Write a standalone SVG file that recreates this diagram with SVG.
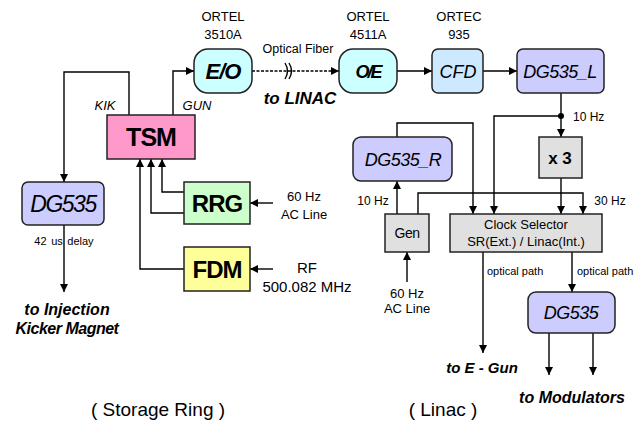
<svg xmlns="http://www.w3.org/2000/svg" width="639" height="422" viewBox="0 0 639 422">
<defs>
<marker id="ah" viewBox="0 0 10 10" refX="10" refY="5" markerWidth="8" markerHeight="8" markerUnits="userSpaceOnUse" orient="auto">
<path d="M0,0 L10,5 L0,10 z" fill="#000"/>
</marker>
<style>
text{font-family:"Liberation Sans",Arial,sans-serif;fill:#000}
.box{stroke:#222;stroke-width:1.5}
.c{fill:none;stroke:#000;stroke-width:1.4;marker-end:url(#ah)}
.n{fill:none;stroke:#000;stroke-width:1.4}
.m{text-anchor:middle}
.s12{font-size:12px}
.s13{font-size:13px}
.s11{font-size:11px}
.bi{font-weight:bold;font-style:italic}
.it{font-style:italic}
.bd{font-weight:bold}
</style>
</defs>
<rect width="639" height="422" fill="#fff"/>

<g id="connectors">
<path class="c" d="M129,115 V72 H64 V182"/>
<path class="c" d="M173,115 V71 H194"/>
<path class="c" d="M252,71 H339" stroke-dasharray="3,1.5"/>
<path class="n" d="M285,63 Q290,71 285,79 M289,63 Q294,71 289,79" stroke-width="1.2"/>
<path class="c" d="M397,71 H432"/>
<path class="c" d="M483,71 H517"/>
<path class="c" d="M561,93 V137"/>
<circle cx="561" cy="116" r="3" fill="#000"/>
<path class="c" d="M561,116 H494 V214"/>
<path class="c" d="M397,137 V123 H473 V214"/>
<path class="c" d="M561,178 V214"/>
<path class="c" d="M418,214 V193 H583 V214"/>
<path class="c" d="M397,214 V181"/>
<path class="c" d="M407,282 V252"/>
<path class="c" d="M483,252 V353"/>
<path class="c" d="M572,252 V292"/>
<path class="c" d="M549,333 V375"/>
<path class="c" d="M593,333 V375"/>
<path class="c" d="M184,192 H162 V159"/>
<path class="c" d="M184,213 H151 V159"/>
<path class="c" d="M184,269 H140 V159"/>
<path class="c" d="M273,203 H250"/>
<path class="c" d="M273,269 H250"/>
<path class="c" d="M64,225 V292"/>
</g>

<g id="eo">
<rect class="box" x="194" y="49" width="58" height="44" rx="14" fill="#ccffff"/>
<text class="m bi" x="223" y="79" font-size="22" letter-spacing="-1">E/O</text>
<text class="m s13" x="223" y="21">ORTEL</text>
<text class="m s13" x="223" y="39">3510A</text>
</g>
<g id="oe">
<rect class="box" x="339" y="49" width="58" height="44" rx="14" fill="#ccffff"/>
<text class="m bi" x="368" y="78" font-size="18" letter-spacing="-2">O/E</text>
<text class="m s13" x="368" y="21">ORTEL</text>
<text class="m s13" x="368" y="39">4511A</text>
</g>
<g id="cfd">
<rect class="box" x="432" y="49" width="51" height="44" rx="6" fill="#cce9ff"/>
<text class="m it" x="458" y="78" font-size="18">CFD</text>
<text class="m s13" x="459" y="21">ORTEC</text>
<text class="m s13" x="459" y="39">935</text>
</g>
<g id="dg535l">
<rect class="box" x="517" y="49" width="87" height="44" rx="6" fill="#ccccff"/>
<text class="m it" x="560" y="78" font-size="18" letter-spacing="-0.5">DG535_L</text>
</g>
<g id="tsm">
<rect class="box" x="107" y="115" width="88" height="44" fill="#ff99cc"/>
<text class="m bd" x="151" y="146" font-size="25" letter-spacing="-1">TSM</text>
</g>
<g id="dg535sr">
<rect class="box" x="22" y="182" width="82" height="43" rx="6" fill="#ccccff"/>
<text class="m it" x="63" y="212" font-size="23" letter-spacing="-1.5">DG535</text>
</g>
<g id="rrg">
<rect class="box" x="184" y="182" width="66" height="42" fill="#ccffcc"/>
<text class="m bd" x="217" y="212" font-size="24" letter-spacing="-1">RRG</text>
</g>
<g id="fdm">
<rect class="box" x="184" y="247" width="66" height="44" fill="#ffff99"/>
<text class="m bd" x="217" y="278" font-size="24" letter-spacing="-1">FDM</text>
</g>
<g id="dg535r">
<rect class="box" x="353" y="137" width="99" height="44" rx="8" fill="#ccccff"/>
<text class="m it" x="403" y="166" font-size="18" letter-spacing="-0.5">DG535_R</text>
</g>
<g id="x3">
<rect class="box" x="539" y="137" width="43" height="41" fill="#e0e0e0"/>
<text class="m bd" x="560" y="164" font-size="17">x 3</text>
</g>
<g id="gen">
<rect class="box" x="385" y="214" width="44" height="38" fill="#e0e0e0"/>
<text class="m" x="407" y="238" font-size="14" letter-spacing="-0.5">Gen</text>
</g>
<g id="clocksel">
<rect class="box" x="450" y="214" width="152" height="38" fill="#e0e0e0"/>
<text class="m s13" x="526" y="229">Clock Selector</text>
<text class="m s13" x="526" y="246">SR(Ext.) / Linac(Int.)</text>
</g>
<g id="dg535linac">
<rect class="box" x="528" y="292" width="87" height="41" rx="8" fill="#ccccff"/>
<text class="m it" x="571" y="319" font-size="18" letter-spacing="-0.5">DG535</text>
</g>

<g id="labels">
<text class="m" x="298" y="53" font-size="12.5">Optical Fiber</text>
<text class="m bi" x="300" y="104" font-size="17">to LINAC</text>
<text class="m it s13" x="105" y="110">KIK</text>
<text class="m it s13" x="197" y="110">GUN</text>
<text class="s12" x="573" y="121">10 Hz</text>
<text class="m s12" x="373" y="205">10 Hz</text>
<text class="m s12" x="610" y="205">30 Hz</text>
<text class="m s13" x="304" y="201">60 Hz</text>
<text class="m s13" x="304" y="219">AC Line</text>
<text class="m" x="307" y="273" font-size="15">RF</text>
<text class="m" x="307" y="292" font-size="15">500.082 MHz</text>
<text class="m s11" x="64" y="245" word-spacing="1.5">42 us delay</text>
<text class="m bi" x="67" y="315" font-size="16">to Injection</text>
<text class="m bi" x="67" y="334" font-size="16" letter-spacing="-0.5">Kicker Magnet</text>
<text class="m" x="158" y="416" font-size="19">( Storage Ring )</text>
<text class="s11" x="487" y="275">optical path</text>
<text class="s11" x="577" y="275">optical path</text>
<text class="m s13" x="407" y="298">60 Hz</text>
<text class="m s13" x="407" y="313">AC Line</text>
<text class="m bi" x="482" y="373" font-size="15">to E - Gun</text>
<text class="m bi" x="572" y="403" font-size="16">to Modulators</text>
<text class="m" x="443" y="416" font-size="19">( Linac )</text>
</g>
</svg>
